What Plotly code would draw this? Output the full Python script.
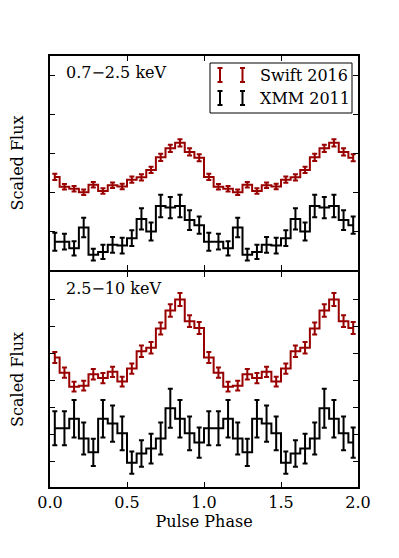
import plotly.graph_objects as go

# ---------------- data ----------------
phase = [0.03125, 0.09375, 0.15625, 0.21875, 0.28125, 0.34375, 0.40625, 0.46875,
         0.53125, 0.59375, 0.65625, 0.71875, 0.78125, 0.84375, 0.90625, 0.96875,
         1.03125, 1.09375, 1.15625, 1.21875, 1.28125, 1.34375, 1.40625, 1.46875,
         1.53125, 1.59375, 1.65625, 1.71875, 1.78125, 1.84375, 1.90625, 1.96875]

# 0.7-2.5 keV
soft_swift = [2.40, 2.15, 2.10, 2.01, 2.20, 2.04, 2.19, 2.16,
              2.33, 2.39, 2.58, 2.90, 3.13, 3.27, 3.04, 2.89,
              2.40, 2.15, 2.10, 2.01, 2.20, 2.04, 2.19, 2.16,
              2.33, 2.39, 2.58, 2.90, 3.13, 3.27, 3.04, 2.89]
soft_swift_err = [0.08, 0.07, 0.07, 0.07, 0.07, 0.07, 0.07, 0.07,
                  0.08, 0.08, 0.08, 0.09, 0.09, 0.09, 0.09, 0.09,
                  0.08, 0.07, 0.07, 0.07, 0.07, 0.07, 0.07, 0.07,
                  0.08, 0.08, 0.08, 0.09, 0.09, 0.09, 0.09, 0.09]
soft_xmm = [0.75, 0.75, 0.58, 1.11, 0.42, 0.49, 0.67, 0.65,
            0.84, 1.33, 1.01, 1.66, 1.62, 1.66, 1.30, 1.17,
            0.75, 0.75, 0.58, 1.11, 0.42, 0.49, 0.67, 0.65,
            0.84, 1.33, 1.01, 1.66, 1.62, 1.66, 1.30, 1.17]
soft_xmm_err = [0.23, 0.20, 0.18, 0.25, 0.15, 0.18, 0.20, 0.20,
                0.20, 0.27, 0.23, 0.29, 0.27, 0.29, 0.25, 0.22,
                0.23, 0.20, 0.18, 0.25, 0.15, 0.18, 0.20, 0.20,
                0.20, 0.27, 0.23, 0.29, 0.27, 0.29, 0.25, 0.22]

# 2.5-10 keV
hard_swift = [4.85, 4.29, 3.77, 3.81, 4.23, 4.09, 4.32, 3.96,
              4.44, 5.08, 5.21, 5.92, 6.58, 6.99, 6.19, 5.94,
              4.85, 4.29, 3.77, 3.81, 4.23, 4.09, 4.32, 3.96,
              4.44, 5.08, 5.21, 5.92, 6.58, 6.99, 6.19, 5.94]
hard_swift_err = [0.20, 0.19, 0.18, 0.18, 0.19, 0.19, 0.19, 0.18,
                  0.19, 0.21, 0.21, 0.22, 0.23, 0.24, 0.22, 0.22,
                  0.20, 0.19, 0.18, 0.18, 0.19, 0.19, 0.19, 0.18,
                  0.19, 0.21, 0.21, 0.22, 0.23, 0.24, 0.22, 0.22]
hard_xmm = [2.24, 2.24, 2.59, 1.86, 1.35, 2.59, 2.41, 2.05,
            0.97, 1.31, 1.49, 1.86, 2.98, 2.59, 2.05, 1.71,
            2.24, 2.24, 2.59, 1.86, 1.35, 2.59, 2.41, 2.05,
            0.97, 1.31, 1.49, 1.86, 2.98, 2.59, 2.05, 1.71]
hard_xmm_err = [0.63, 0.63, 0.69, 0.59, 0.50, 0.69, 0.67, 0.62,
                0.41, 0.49, 0.55, 0.59, 0.72, 0.69, 0.62, 0.56,
                0.63, 0.63, 0.69, 0.59, 0.50, 0.69, 0.67, 0.62,
                0.41, 0.49, 0.55, 0.59, 0.72, 0.69, 0.62, 0.56]

x_ticks = [0.0, 0.5, 1.0, 1.5, 2.0]
series_names = ["Swift 2016", "XMM 2011"]
band_labels = ["0.7\u22122.5 keV", "2.5\u221210 keV"]

RED = "#990000"
BLACK = "#000000"
FONT = "DejaVu Serif"
FS = 16

# ---------------- geometry ----------------
W, H = 399, 558
ML, MR, MT, MB = 50, 41, 56, 71
PW, PH = W - ML - MR, H - MT - MB
SPLIT = (H - MB - 271) / PH
HALF = 1.0 / PH


def px(x):
    return (x - ML) / PW


def py(y):
    return (H - MB - y) / PH


fig = go.Figure()


def add_series(xa, ya, y, err, color, name):
    fig.add_trace(go.Scatter(
        x=phase, y=y, mode="lines", name=name, showlegend=False,
        line=dict(color=color, width=2, shape="hvh"),
        error_y=dict(type="data", array=err, visible=True,
                     color=color, thickness=2, width=2.5),
        xaxis=xa, yaxis=ya))


add_series("x2", "y2", soft_swift, soft_swift_err, RED, series_names[0])
add_series("x2", "y2", soft_xmm, soft_xmm_err, BLACK, series_names[1])
add_series("x", "y", hard_swift, hard_swift_err, RED, series_names[0])
add_series("x", "y", hard_xmm, hard_xmm_err, BLACK, series_names[1])

axis_common = dict(showline=True, linewidth=2, linecolor="black", mirror="allticks",
                   ticks="inside", ticklen=5, tickwidth=1, tickcolor="black",
                   showgrid=False, zeroline=False, automargin=False)

fig.update_layout(
    width=W, height=H,
    margin=dict(l=ML, r=MR, t=MT, b=MB, autoexpand=False),
    paper_bgcolor="white", plot_bgcolor="white",
    font=dict(family=FONT, size=FS, color="black"),
    showlegend=False,
    xaxis=dict(domain=[0, 1], range=[0, 2], anchor="y",
               tickvals=x_ticks, tickformat=".1f",
               tickfont=dict(family=FONT, size=FS),
               title=dict(text="Pulse Phase", standoff=1,
                          font=dict(family=FONT, size=FS)),
               **axis_common),
    xaxis2=dict(domain=[0, 1], range=[0, 2], anchor="y2", matches="x",
                tickvals=x_ticks, showticklabels=False, **axis_common),
    yaxis=dict(domain=[0, SPLIT - HALF], range=[0.071, 8.003], anchor="x",
               tickvals=[1, 2, 3, 4, 5, 6, 7], showticklabels=False,
               title=dict(text="Scaled Flux", standoff=20,
                          font=dict(family=FONT, size=FS)),
               **axis_common),
    yaxis2=dict(domain=[SPLIT + HALF, 1], range=[0.028, 5.485], anchor="x2",
                tickvals=[1, 2, 3, 4, 5], showticklabels=False,
                title=dict(text="Scaled Flux", standoff=20,
                           font=dict(family=FONT, size=FS)),
                **axis_common),
)

# band labels
fig.add_annotation(xref="paper", yref="paper", x=px(64), y=py(73),
                   text=band_labels[0], showarrow=False,
                   xanchor="left", yanchor="middle",
                   font=dict(family=FONT, size=FS))
fig.add_annotation(xref="paper", yref="paper", x=px(64), y=py(288),
                   text=band_labels[1], showarrow=False,
                   xanchor="left", yanchor="middle",
                   font=dict(family=FONT, size=FS))

# legend box
shapes = [dict(type="rect", xref="paper", yref="paper",
               x0=px(210), x1=px(352), y0=py(113), y1=py(63),
               line=dict(color="black", width=1), fillcolor="white", layer="above")]


def glyph(xc, yc, color):
    h, c = 7, 2.5
    out = [dict(type="line", xref="paper", yref="paper",
                x0=px(xc), x1=px(xc), y0=py(yc - h), y1=py(yc + h),
                line=dict(color=color, width=2), layer="above")]
    for yy in (yc - h, yc + h):
        out.append(dict(type="line", xref="paper", yref="paper",
                        x0=px(xc - c), x1=px(xc + c), y0=py(yy), y1=py(yy),
                        line=dict(color=color, width=2), layer="above"))
    return out


for xc in (220, 242.5):
    shapes += glyph(xc, 75, RED)
    shapes += glyph(xc, 98, BLACK)

fig.update_layout(shapes=shapes)

fig.add_annotation(xref="paper", yref="paper", x=px(258), y=py(75),
                   text=series_names[0], showarrow=False,
                   xanchor="left", yanchor="middle",
                   font=dict(family=FONT, size=FS))
fig.add_annotation(xref="paper", yref="paper", x=px(258), y=py(98),
                   text=series_names[1], showarrow=False,
                   xanchor="left", yanchor="middle",
                   font=dict(family=FONT, size=FS))

fig.write_html("out.html",
               config={"displayModeBar": False},
               post_script="document.body.style.margin='0';document.body.style.padding='0';")
